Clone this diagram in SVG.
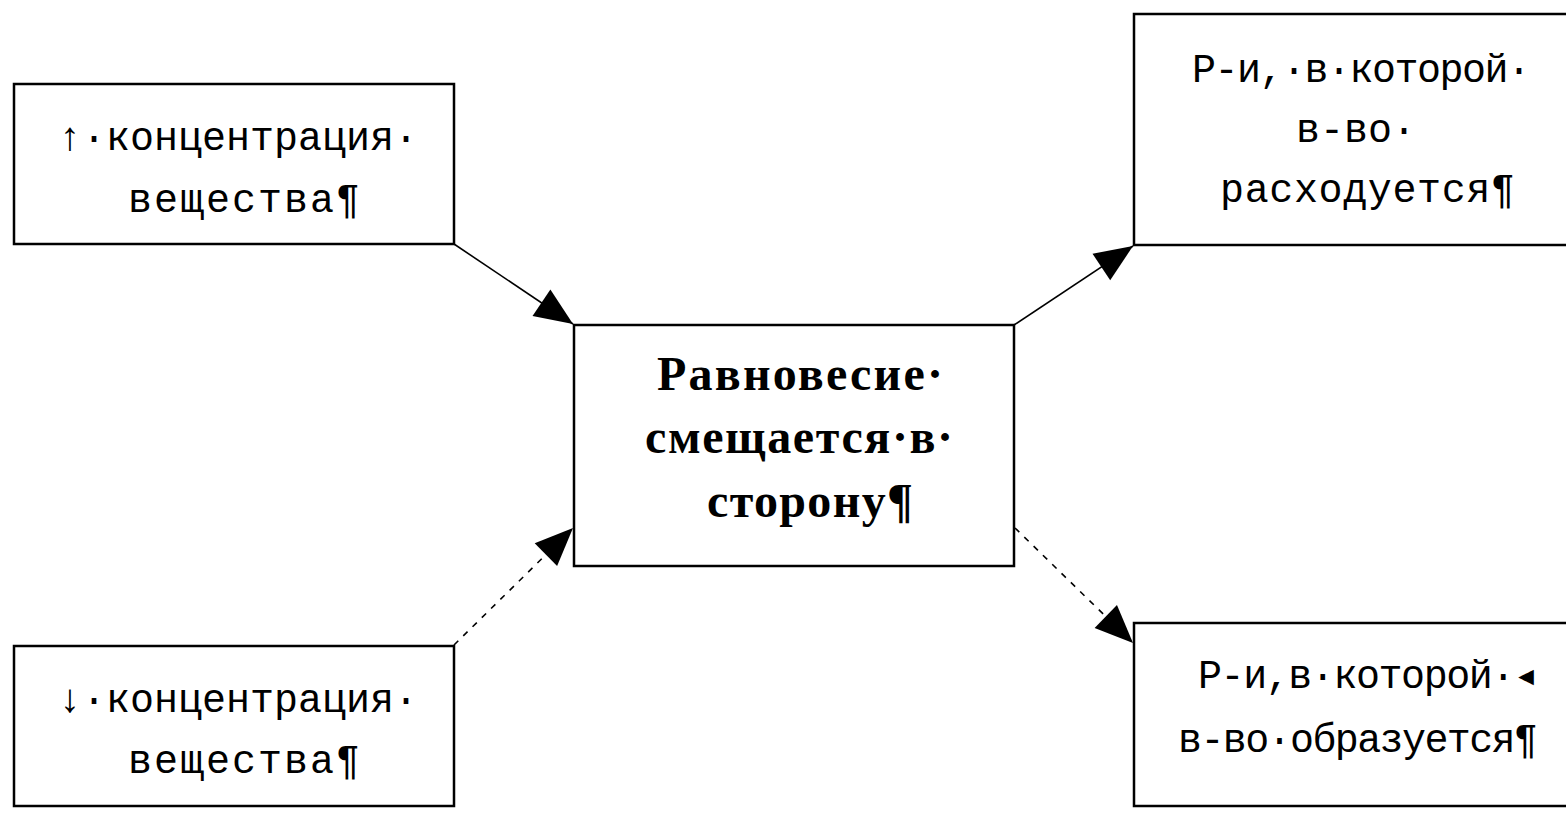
<svg xmlns="http://www.w3.org/2000/svg" width="1566" height="816" viewBox="0 0 1566 816">
<style>
.box{fill:#fff;stroke:#000;stroke-width:2.5}
.mono{font-family:"Liberation Mono","DejaVu Sans Mono",monospace;font-size:40px;fill:#000}
.bold{font-family:"Liberation Serif","DejaVu Serif",serif;font-size:48px;font-weight:bold;fill:#000}
.conn{stroke:#000;stroke-width:1.6;fill:none}
.dash{stroke-dasharray:6 7}
</style>
<defs>
<marker id="ah" markerUnits="userSpaceOnUse" markerWidth="40" markerHeight="36" viewBox="-40 -18 40 36" refX="0" refY="0" orient="auto">
<path d="M0,0 L-38,-16 L-38,16 Z" fill="#000"/>
</marker>
</defs>
<rect width="1566" height="816" fill="#fff"/>
<g id="connectors">
<line class="conn" x1="454" y1="244" x2="573" y2="324" marker-end="url(#ah)"/>
<line class="conn" x1="1014" y1="325" x2="1133" y2="246" marker-end="url(#ah)"/>
<line class="conn dash" x1="454" y1="645" x2="573" y2="528" marker-end="url(#ah)"/>
<line class="conn dash" x1="1015" y1="528" x2="1133" y2="643" marker-end="url(#ah)"/>
</g>
<g id="node-increase">
<rect class="box" x="14" y="84" width="440" height="160"/>
<text class="mono" x="58" y="150" textLength="360" lengthAdjust="spacing">↑·концентрация·</text>
<text class="mono" x="128" y="212" textLength="232" lengthAdjust="spacing">вещества¶</text>
</g>
<g id="node-consumed">
<rect class="box" x="1134" y="14" width="440" height="231"/>
<text class="mono" x="1192" y="82" font-size="38" textLength="339" lengthAdjust="spacing">Р-и,·в·которой·</text>
<text class="mono" x="1296" y="142" font-size="38">в-во·</text>
<text class="mono" x="1220" y="202" font-size="38" textLength="295" lengthAdjust="spacing">расходуется¶</text>
</g>
<g id="node-center">
<rect class="box" x="574" y="325" width="440" height="241"/>
<text class="bold" x="657" y="390" textLength="286" lengthAdjust="spacing">Равновесие·</text>
<text class="bold" x="645" y="453" textLength="308" lengthAdjust="spacing">смещается·в·</text>
<text class="bold" x="707" y="517" textLength="206" lengthAdjust="spacing">сторону¶</text>
</g>
<g id="node-decrease">
<rect class="box" x="14" y="646" width="440" height="160"/>
<text class="mono" x="58" y="712" textLength="360" lengthAdjust="spacing">↓·концентрация·</text>
<text class="mono" x="128" y="773" textLength="232" lengthAdjust="spacing">вещества¶</text>
</g>
<g id="node-formed">
<rect class="box" x="1134" y="623" width="440" height="183"/>
<text class="mono" x="1198" y="688" font-size="38" textLength="340" lengthAdjust="spacing">Р-и,в·которой·◂</text>
<text class="mono" x="1178" y="752" font-size="38" textLength="360" lengthAdjust="spacing">в-во·образуется¶</text>
</g>
</svg>
